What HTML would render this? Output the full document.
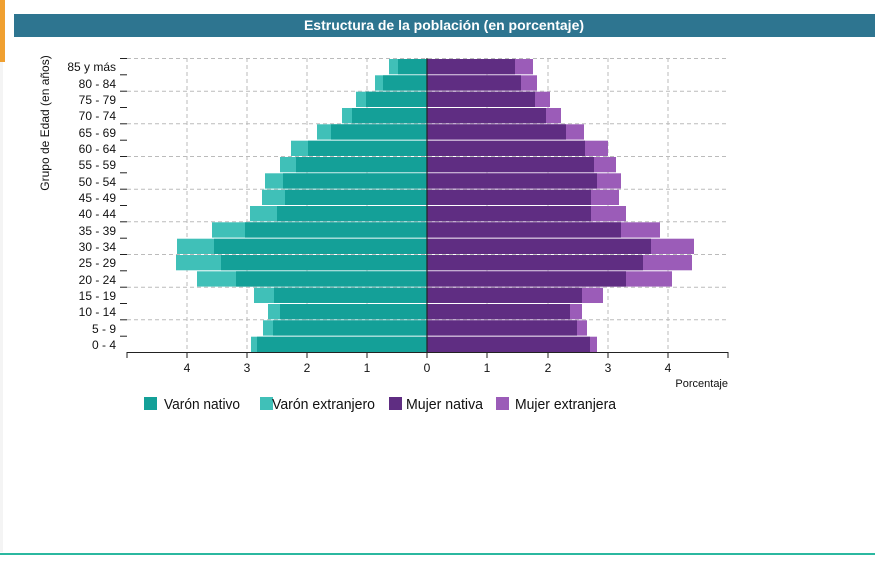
<!DOCTYPE html>
<html><head><meta charset="utf-8"><style>
body{margin:0;width:875px;height:557px;overflow:hidden;background:#fff;font-family:"Liberation Sans",sans-serif}
</style></head><body>
<svg width="875" height="557" viewBox="0 0 875 557" xmlns="http://www.w3.org/2000/svg" font-family="Liberation Sans, sans-serif">
<rect x="0" y="0" width="875" height="557" fill="#fff"/>
<rect x="0" y="0" width="5" height="62" fill="#f0a030"/>
<rect x="0" y="62" width="3" height="490" fill="#f4f4f4"/>
<rect x="14" y="14" width="861" height="23" fill="#2e7590"/>
<text x="444" y="30" text-anchor="middle" font-size="14" font-weight="bold" fill="#fff">Estructura de la población (en porcentaje)</text>
<rect x="0" y="553" width="875" height="2" fill="#2bb8a0"/>
<g stroke="#bbb" stroke-dasharray="4,3" stroke-width="1">
<line x1="127" y1="58.5" x2="728" y2="58.5"/><line x1="127" y1="91.2" x2="728" y2="91.2"/><line x1="127" y1="123.8" x2="728" y2="123.8"/><line x1="127" y1="156.5" x2="728" y2="156.5"/><line x1="127" y1="189.2" x2="728" y2="189.2"/><line x1="127" y1="221.8" x2="728" y2="221.8"/><line x1="127" y1="254.5" x2="728" y2="254.5"/><line x1="127" y1="287.2" x2="728" y2="287.2"/><line x1="127" y1="319.8" x2="728" y2="319.8"/>
<line x1="187" y1="58" x2="187" y2="352"/><line x1="247" y1="58" x2="247" y2="352"/><line x1="307" y1="58" x2="307" y2="352"/><line x1="367" y1="58" x2="367" y2="352"/><line x1="487" y1="58" x2="487" y2="352"/><line x1="548" y1="58" x2="548" y2="352"/><line x1="608" y1="58" x2="608" y2="352"/><line x1="668" y1="58" x2="668" y2="352"/>
</g>
<g id="bars">
<rect x="389" y="59" width="38" height="15.3" fill="#40c0b8"/><rect x="398" y="59" width="29" height="15.3" fill="#14a098"/><rect x="427" y="59" width="106" height="15.3" fill="#9b5cb8"/><rect x="427" y="59" width="88" height="15.3" fill="#5f2d82"/>
<rect x="375" y="75.3" width="52" height="15.3" fill="#40c0b8"/><rect x="383" y="75.3" width="44" height="15.3" fill="#14a098"/><rect x="427" y="75.3" width="110" height="15.3" fill="#9b5cb8"/><rect x="427" y="75.3" width="94" height="15.3" fill="#5f2d82"/>
<rect x="356" y="91.7" width="71" height="15.3" fill="#40c0b8"/><rect x="366" y="91.7" width="61" height="15.3" fill="#14a098"/><rect x="427" y="91.7" width="123" height="15.3" fill="#9b5cb8"/><rect x="427" y="91.7" width="108" height="15.3" fill="#5f2d82"/>
<rect x="342" y="108" width="85" height="15.3" fill="#40c0b8"/><rect x="352" y="108" width="75" height="15.3" fill="#14a098"/><rect x="427" y="108" width="134" height="15.3" fill="#9b5cb8"/><rect x="427" y="108" width="119" height="15.3" fill="#5f2d82"/>
<rect x="317" y="124.3" width="110" height="15.3" fill="#40c0b8"/><rect x="331" y="124.3" width="96" height="15.3" fill="#14a098"/><rect x="427" y="124.3" width="157" height="15.3" fill="#9b5cb8"/><rect x="427" y="124.3" width="139" height="15.3" fill="#5f2d82"/>
<rect x="291" y="140.7" width="136" height="15.3" fill="#40c0b8"/><rect x="308" y="140.7" width="119" height="15.3" fill="#14a098"/><rect x="427" y="140.7" width="181" height="15.3" fill="#9b5cb8"/><rect x="427" y="140.7" width="158" height="15.3" fill="#5f2d82"/>
<rect x="280" y="157" width="147" height="15.3" fill="#40c0b8"/><rect x="296" y="157" width="131" height="15.3" fill="#14a098"/><rect x="427" y="157" width="189" height="15.3" fill="#9b5cb8"/><rect x="427" y="157" width="167" height="15.3" fill="#5f2d82"/>
<rect x="265" y="173.3" width="162" height="15.3" fill="#40c0b8"/><rect x="283" y="173.3" width="144" height="15.3" fill="#14a098"/><rect x="427" y="173.3" width="194" height="15.3" fill="#9b5cb8"/><rect x="427" y="173.3" width="170" height="15.3" fill="#5f2d82"/>
<rect x="262" y="189.7" width="165" height="15.3" fill="#40c0b8"/><rect x="285" y="189.7" width="142" height="15.3" fill="#14a098"/><rect x="427" y="189.7" width="192" height="15.3" fill="#9b5cb8"/><rect x="427" y="189.7" width="164" height="15.3" fill="#5f2d82"/>
<rect x="250" y="206" width="177" height="15.3" fill="#40c0b8"/><rect x="277" y="206" width="150" height="15.3" fill="#14a098"/><rect x="427" y="206" width="199" height="15.3" fill="#9b5cb8"/><rect x="427" y="206" width="164" height="15.3" fill="#5f2d82"/>
<rect x="212" y="222.3" width="215" height="15.3" fill="#40c0b8"/><rect x="245" y="222.3" width="182" height="15.3" fill="#14a098"/><rect x="427" y="222.3" width="233" height="15.3" fill="#9b5cb8"/><rect x="427" y="222.3" width="194" height="15.3" fill="#5f2d82"/>
<rect x="177" y="238.7" width="250" height="15.3" fill="#40c0b8"/><rect x="214" y="238.7" width="213" height="15.3" fill="#14a098"/><rect x="427" y="238.7" width="267" height="15.3" fill="#9b5cb8"/><rect x="427" y="238.7" width="224" height="15.3" fill="#5f2d82"/>
<rect x="176" y="255" width="251" height="15.3" fill="#40c0b8"/><rect x="221" y="255" width="206" height="15.3" fill="#14a098"/><rect x="427" y="255" width="265" height="15.3" fill="#9b5cb8"/><rect x="427" y="255" width="216" height="15.3" fill="#5f2d82"/>
<rect x="197" y="271.3" width="230" height="15.3" fill="#40c0b8"/><rect x="236" y="271.3" width="191" height="15.3" fill="#14a098"/><rect x="427" y="271.3" width="245" height="15.3" fill="#9b5cb8"/><rect x="427" y="271.3" width="199" height="15.3" fill="#5f2d82"/>
<rect x="254" y="287.7" width="173" height="15.3" fill="#40c0b8"/><rect x="274" y="287.7" width="153" height="15.3" fill="#14a098"/><rect x="427" y="287.7" width="176" height="15.3" fill="#9b5cb8"/><rect x="427" y="287.7" width="155" height="15.3" fill="#5f2d82"/>
<rect x="268" y="304" width="159" height="15.3" fill="#40c0b8"/><rect x="280" y="304" width="147" height="15.3" fill="#14a098"/><rect x="427" y="304" width="155" height="15.3" fill="#9b5cb8"/><rect x="427" y="304" width="143" height="15.3" fill="#5f2d82"/>
<rect x="263" y="320.3" width="164" height="15.3" fill="#40c0b8"/><rect x="273" y="320.3" width="154" height="15.3" fill="#14a098"/><rect x="427" y="320.3" width="160" height="15.3" fill="#9b5cb8"/><rect x="427" y="320.3" width="150" height="15.3" fill="#5f2d82"/>
<rect x="251" y="336.7" width="176" height="15.3" fill="#40c0b8"/><rect x="257" y="336.7" width="170" height="15.3" fill="#14a098"/><rect x="427" y="336.7" width="170" height="15.3" fill="#9b5cb8"/><rect x="427" y="336.7" width="163" height="15.3" fill="#5f2d82"/>
</g>
<line x1="427" y1="58" x2="427" y2="352" stroke="#222" stroke-width="1.2"/>
<g stroke="#222" stroke-width="1">
<line x1="120" y1="58.5" x2="127" y2="58.5"/><line x1="120" y1="74.8" x2="127" y2="74.8"/><line x1="120" y1="91.2" x2="127" y2="91.2"/><line x1="120" y1="107.5" x2="127" y2="107.5"/><line x1="120" y1="123.8" x2="127" y2="123.8"/><line x1="120" y1="140.2" x2="127" y2="140.2"/><line x1="120" y1="156.5" x2="127" y2="156.5"/><line x1="120" y1="172.8" x2="127" y2="172.8"/><line x1="120" y1="189.2" x2="127" y2="189.2"/><line x1="120" y1="205.5" x2="127" y2="205.5"/><line x1="120" y1="221.8" x2="127" y2="221.8"/><line x1="120" y1="238.2" x2="127" y2="238.2"/><line x1="120" y1="254.5" x2="127" y2="254.5"/><line x1="120" y1="270.8" x2="127" y2="270.8"/><line x1="120" y1="287.2" x2="127" y2="287.2"/><line x1="120" y1="303.5" x2="127" y2="303.5"/><line x1="120" y1="319.8" x2="127" y2="319.8"/><line x1="120" y1="336.2" x2="127" y2="336.2"/>
<line x1="127" y1="352.5" x2="728" y2="352.5"/>
<line x1="127" y1="352" x2="127" y2="358"/><line x1="187" y1="352" x2="187" y2="358"/><line x1="247" y1="352" x2="247" y2="358"/><line x1="307" y1="352" x2="307" y2="358"/><line x1="367" y1="352" x2="367" y2="358"/><line x1="427" y1="352" x2="427" y2="358"/><line x1="487" y1="352" x2="487" y2="358"/><line x1="548" y1="352" x2="548" y2="358"/><line x1="608" y1="352" x2="608" y2="358"/><line x1="668" y1="352" x2="668" y2="358"/><line x1="728" y1="352" x2="728" y2="358"/>
</g>
<g font-size="12" fill="#111" text-anchor="middle">
<text x="187" y="372">4</text><text x="247" y="372">3</text><text x="307" y="372">2</text><text x="367" y="372">1</text><text x="427" y="372">0</text><text x="487" y="372">1</text><text x="548" y="372">2</text><text x="608" y="372">3</text><text x="668" y="372">4</text>
</g>
<text x="728" y="387" font-size="11" text-anchor="end" fill="#111">Porcentaje</text>
<g font-size="12" fill="#111" text-anchor="end">
<text x="116" y="71">85 y más</text><text x="116" y="88">80 - 84</text><text x="116" y="104">75 - 79</text><text x="116" y="120">70 - 74</text><text x="116" y="137">65 - 69</text><text x="116" y="153">60 - 64</text><text x="116" y="169">55 - 59</text><text x="116" y="186">50 - 54</text><text x="116" y="202">45 - 49</text><text x="116" y="218">40 - 44</text><text x="116" y="235">35 - 39</text><text x="116" y="251">30 - 34</text><text x="116" y="267">25 - 29</text><text x="116" y="284">20 - 24</text><text x="116" y="300">15 - 19</text><text x="116" y="316">10 - 14</text><text x="116" y="333">5 - 9</text><text x="116" y="349">0 - 4</text>
</g>
<text transform="translate(49,123) rotate(-90)" font-size="12" text-anchor="middle" fill="#111">Grupo de Edad (en años)</text>
<g font-size="14.5" fill="#111">
<rect x="144" y="397" width="13" height="13" fill="#14a098"/><text x="164" y="409" textLength="76" lengthAdjust="spacingAndGlyphs">Varón nativo</text>
<rect x="260" y="397" width="13" height="13" fill="#40c0b8"/><text x="272" y="409" textLength="103" lengthAdjust="spacingAndGlyphs">Varón extranjero</text>
<rect x="389" y="397" width="13" height="13" fill="#5f2d82"/><text x="406" y="409" textLength="77" lengthAdjust="spacingAndGlyphs">Mujer nativa</text>
<rect x="496" y="397" width="13" height="13" fill="#9b5cb8"/><text x="515" y="409" textLength="101" lengthAdjust="spacingAndGlyphs">Mujer extranjera</text>
</g>
</svg>
</body></html>
